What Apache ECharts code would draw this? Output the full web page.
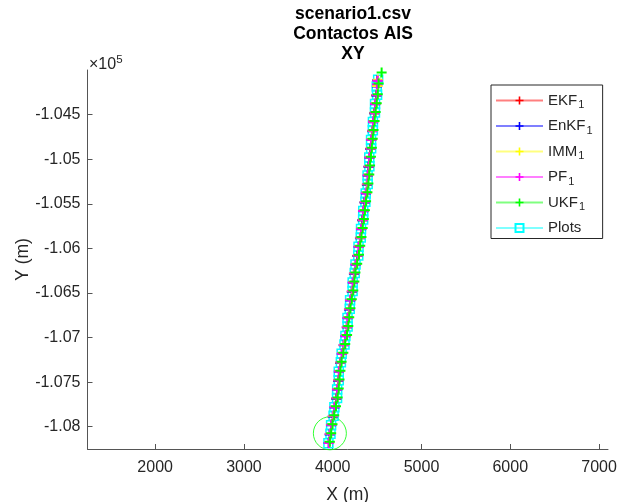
<!doctype html>
<html>
<head>
    <meta charset="utf-8">
    <title>scenario1.csv XY</title>
    <style>
        html, body { margin: 0; padding: 0; background: #fff; }
        #chartXY { width: 617px; height: 502px; }
    </style>
</head>
<body>
<div id="chartXY"></div>
<script src="https://cdn.jsdelivr.net/npm/echarts@6/dist/echarts.min.js"></script>
<script>
    // ticks (m)
    var xTicks = [2000, 3000, 4000, 5000, 6000, 7000];
    var yTicks = [-108000, -107500, -107000, -106500, -106000, -105500, -105000, -104500];

    // measured plots
    var plotsX = [3952, 3975, 3982, 4010, 4019, 4049, 4050, 4068, 4068, 4092, 4101, 4133, 4143, 4168, 4167, 4192, 4196, 4224, 4225, 4248, 4257, 4288, 4291, 4316, 4319, 4343, 4344, 4368, 4372, 4394, 4393, 4413, 4412, 4433, 4432, 4452, 4453, 4476, 4477, 4500, 4496, 4512];
    var plotsY = [-108185, -108078, -107984, -107876, -107783, -107677, -107584, -107478, -107383, -107276, -107183, -107079, -106984, -106877, -106782, -106678, -106583, -106477, -106384, -106276, -106182, -106079, -105983, -105878, -105784, -105677, -105582, -105478, -105384, -105277, -105183, -105078, -104982, -104877, -104784, -104676, -104583, -104477, -104382, -104278, -104184, -104108];

    // filters
    var ekfX = [3960, 3968, 3988, 4003, 4026, 4041, 4056, 4062, 4075, 4084, 4108, 4125, 4150, 4160, 4174, 4184, 4203, 4216, 4232, 4240, 4264, 4280, 4298, 4308, 4326, 4335, 4351, 4360, 4379, 4386, 4400, 4405, 4419, 4425, 4439, 4444, 4460, 4468, 4484, 4492, 4503, 4505];
    var ekfY = [-108176, -108083, -107976, -107884, -107776, -107684, -107576, -107484, -107376, -107284, -107176, -107084, -106976, -106884, -106776, -106684, -106576, -106484, -106376, -106284, -106176, -106084, -105976, -105884, -105776, -105684, -105576, -105484, -105376, -105284, -105176, -105084, -104976, -104884, -104776, -104684, -104576, -104484, -104376, -104284, -104176, -104114];

    var enkfX = [3955, 3966, 3984, 4001, 4021, 4040, 4051, 4060, 4070, 4083, 4103, 4124, 4145, 4159, 4169, 4183, 4198, 4215, 4227, 4239, 4259, 4279, 4293, 4307, 4321, 4334, 4346, 4359, 4374, 4385, 4395, 4404, 4414, 4424, 4434, 4443, 4455, 4467, 4479, 4491, 4498, 4504];
    var enkfY = [-108182, -108086, -107985, -107886, -107785, -107686, -107585, -107486, -107385, -107286, -107185, -107086, -106985, -106886, -106785, -106686, -106585, -106486, -106385, -106286, -106185, -106086, -105985, -105886, -105785, -105686, -105585, -105486, -105385, -105286, -105185, -105086, -104985, -104886, -104785, -104686, -104585, -104486, -104385, -104286, -104185, -104116];

    var immX = [3958, 3971, 3986, 4005, 4023, 4044, 4053, 4064, 4072, 4087, 4105, 4128, 4147, 4163, 4171, 4187, 4200, 4219, 4229, 4243, 4261, 4283, 4295, 4311, 4323, 4338, 4348, 4363, 4376, 4389, 4397, 4408, 4416, 4428, 4436, 4447, 4457, 4471, 4481, 4495, 4500, 4508];
    var immY = [-108179, -108080, -107979, -107880, -107779, -107680, -107579, -107480, -107379, -107280, -107179, -107080, -106979, -106880, -106779, -106680, -106579, -106480, -106379, -106280, -106179, -106080, -105979, -105880, -105779, -105680, -105579, -105480, -105379, -105280, -105179, -105080, -104979, -104880, -104779, -104680, -104579, -104480, -104379, -104280, -104179, -104110];

    var pfX = [3956, 3972, 3983, 4008, 4020, 4047, 4049, 4066, 4069, 4090, 4102, 4131, 4144, 4166, 4168, 4190, 4197, 4222, 4226, 4246, 4258, 4286, 4292, 4314, 4320, 4341, 4345, 4366, 4373, 4392, 4394, 4411, 4413, 4431, 4433, 4450, 4454, 4474, 4478, 4498, 4499, 4506];
    var pfY = [-108183, -108079, -107982, -107878, -107781, -107679, -107582, -107479, -107381, -107278, -107181, -107081, -106982, -106879, -106781, -106679, -106582, -106478, -106382, -106278, -106181, -106080, -105982, -105879, -105782, -105679, -105581, -105479, -105382, -105279, -105181, -105079, -104981, -104879, -104782, -104678, -104581, -104479, -104381, -104279, -104160, -104120];

    var ukfX = [3968, 3983, 3998, 4017, 4037, 4056, 4068, 4077, 4087, 4100, 4120, 4141, 4162, 4176, 4186, 4200, 4215, 4232, 4244, 4256, 4276, 4296, 4310, 4324, 4338, 4351, 4363, 4376, 4391, 4402, 4412, 4421, 4431, 4441, 4451, 4460, 4472, 4484, 4496, 4508, 4517, 4551];
    var ukfY = [-108170, -108072, -107972, -107872, -107772, -107672, -107572, -107472, -107372, -107272, -107172, -107072, -106972, -106872, -106772, -106672, -106572, -106472, -106372, -106272, -106172, -106072, -105972, -105872, -105772, -105672, -105572, -105472, -105372, -105272, -105172, -105072, -104972, -104872, -104772, -104672, -104572, -104472, -104372, -104272, -104150, -104027];

    // start marker
    var startX = [3968];
    var startY = [-108074];

    // '+' marker, thick arms
    var plusPath = 'path://M4,0h2v4h4v2h-4v4h-2v-4h-4v-2h4z';
    var txt = '#262626';
    var font = 'Liberation Sans';

    function pairs(xs, ys) {
        var out = [];
        for (var i = 0; i < xs.length; i++) out.push([xs[i], ys[i]]);
        return out;
    }

    function track(name, color, xs, ys, symbol, size) {
        return {
            name: name,
            type: 'line',
            data: pairs(xs, ys),
            symbol: symbol || plusPath,
            symbolSize: size || 10,
            showSymbol: true,
            animation: false,
            lineStyle: {color: color, width: 1, opacity: 0.5},
            itemStyle: {color: symbol ? 'transparent' : color, borderColor: color, borderWidth: symbol ? 1.5 : 0}
        };
    }

    var chart = echarts.init(document.getElementById('chartXY'), null, {renderer: 'canvas'});
    var option = {
        backgroundColor: '#fff',
        animation: false,
        title: {
            text: 'scenario1.csv\nContactos AIS\nXY',
            left: 348,
            top: -1,
            textAlign: 'center',
            textStyle: {fontFamily: font, fontSize: 17.5, fontWeight: 'bold', color: '#000', lineHeight: 20}
        },
        graphic: [{
            type: 'text',
            left: 89,
            top: 54,
            style: {
                text: '×10{s|5}',
                fontFamily: font,
                fontSize: 16,
                fill: txt,
                rich: {s: {fontFamily: font, fontSize: 11.5, fill: txt, padding: [0, 0, 9, 0]}}
            }
        }],
        legend: {
            orient: 'vertical',
            left: 491,
            top: 85,
            padding: [8, 10, 3, 4],
            itemGap: 8,
            itemWidth: 47,
            itemHeight: 10,
            backgroundColor: '#fff',
            borderColor: txt,
            borderWidth: 1,
            borderRadius: 0,
            data: ['EKF', 'EnKF', 'IMM', 'PF', 'UKF', 'Plots'],
            formatter: function (name) {
                return name === 'Plots' ? name : name + '{s|1}';
            },
            textStyle: {
                fontFamily: font, fontSize: 15, color: txt,
                rich: {s: {fontFamily: font, fontSize: 11, color: txt, padding: [9, 0, 0, 1]}}
            }
        },
        grid: {left: 87.5, right: 9, top: 70, bottom: 53, containLabel: false, outerBoundsMode: 'none'},
        xAxis: {
            type: 'value',
            min: 1238,
            max: 7101,
            name: 'X (m)',
            nameLocation: 'middle',
            nameGap: 37,
            nameMoveOverlap: false,
            nameTextStyle: {fontFamily: font, fontSize: 17.5, color: txt},
            axisLine: {show: true, onZero: false, lineStyle: {color: '#555', width: 1}},
            axisTick: {show: true, inside: true, length: 5, customValues: xTicks, lineStyle: {color: '#555'}},
            axisLabel: {
                customValues: xTicks, margin: 11, fontFamily: font, fontSize: 16, color: txt,
                formatter: function (v) { return String(v); }
            },
            splitLine: {show: false}
        },
        yAxis: {
            type: 'value',
            min: -108250,
            max: -104000,
            name: 'Y (m)',
            nameLocation: 'middle',
            nameGap: 55,
            nameRotate: 90,
            nameMoveOverlap: false,
            nameTextStyle: {fontFamily: font, fontSize: 17.5, color: txt},
            axisLine: {show: true, onZero: false, lineStyle: {color: '#555', width: 1}},
            axisTick: {show: true, inside: true, length: 5, customValues: yTicks, lineStyle: {color: '#555'}},
            axisLabel: {
                customValues: yTicks, margin: 7, fontFamily: font, fontSize: 16, color: txt,
                formatter: function (v) { return String(parseFloat((v / 1e5).toFixed(3))); }
            },
            splitLine: {show: false}
        },
        series: [
            track('Plots', '#00ffff', plotsX, plotsY, 'rect', 9),
            track('EKF', '#ff0000', ekfX, ekfY),
            track('EnKF', '#0000ff', enkfX, enkfY),
            track('IMM', '#ffff00', immX, immY),
            track('PF', '#ff00ff', pfX, pfY),
            track('UKF', '#00ff00', ukfX, ukfY),
            {
                name: 'start',
                type: 'scatter',
                data: pairs(startX, startY),
                symbol: 'circle',
                symbolSize: 33,
                itemStyle: {color: 'transparent', borderColor: '#00ff00', borderWidth: 1},
                silent: true
            }
        ]
    };
    chart.setOption(option);
</script>
</body>
</html>
